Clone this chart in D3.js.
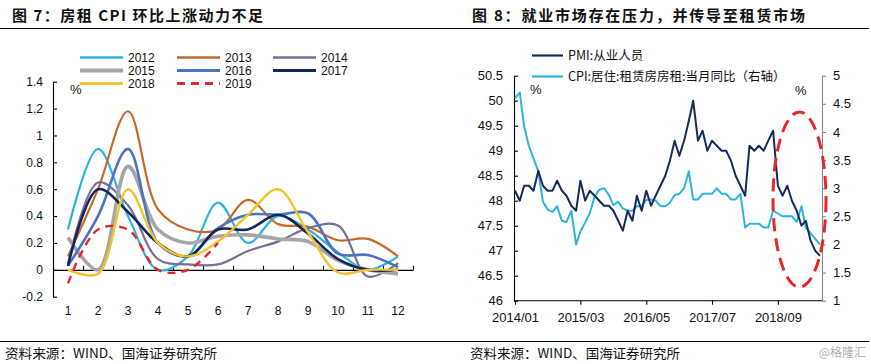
<!DOCTYPE html>
<html><head><meta charset="utf-8">
<script src="https://cdn.jsdelivr.net/npm/d3@7"></script>
<style>body{margin:0;background:#fff;} svg{display:block;font-family:"Liberation Sans",Arial,sans-serif;}</style>
</head><body><svg id="c" width="871" height="364"></svg>
<script>
// ---------- Data: figure 7 (rent CPI month-on-month, %) ----------
const months = [1,2,3,4,5,6,7,8,9,10,11,12];
const seriesNames = ["2012","2013","2014","2015","2016","2017","2018","2019"];
const s2012 = [0.3, 0.9, 0.4, 0.0, 0.1, 0.5, 0.2, 0.4, 0.3, 0.13, 0.0, 0.1];
const s2013 = [0.1, 0.6, 1.18, 0.45, 0.3, 0.3, 0.52, 0.34, 0.32, 0.22, 0.23, 0.1];
const s2014 = [0.04, 0.65, 0.48, 0.08, 0.04, 0.04, 0.14, 0.21, 0.31, 0.33, -0.05, 0.05];
const s2015 = [0.24, 0.0, 0.77, 0.3, 0.2, 0.25, 0.26, 0.23, 0.21, 0.07, 0.0, -0.03];
const s2016 = [0.03, 0.4, 0.9, 0.2, 0.1, 0.31, 0.41, 0.41, 0.42, 0.12, 0.11, 0.02];
const s2017 = [0.03, 0.6, 0.43, 0.2, 0.1, 0.3, 0.3, 0.41, 0.27, 0.08, 0.0, 0.0];
const s2018 = [0.0, -0.03, 0.6, 0.2, 0.1, 0.21, 0.41, 0.6, 0.28, -0.02, 0.0, 0.0];
const s2019 = [-0.1, 0.3, 0.3, 0.0, 0.0, 0.2];
const leftTicks = [-0.2, 0, 0.2, 0.4, 0.6, 0.8, 1, 1.2, 1.4];

// ---------- Data: figure 8 (monthly, 2014/01 - 2019/06) ----------
const pmiEmployment = [
 48.2,48.0,48.3,48.3,48.2,48.6,48.3,48.2,48.2,48.4,48.2,48.1,
 47.9,47.8,48.4,48.0,48.2,48.1,48.0,47.9,47.9,47.8,47.6,47.4,
 47.8,47.6,48.1,47.8,48.2,47.9,48.1,48.3,48.5,48.8,49.2,48.9,
 49.2,49.6,50.0,49.2,49.4,49.0,49.2,49.1,49.0,49.0,48.8,48.5,
 48.3,48.1,49.1,49.0,49.1,49.0,49.2,49.4,48.3,48.1,48.3,48.0,
 47.8,47.5,47.6,47.2,47.0,46.9];
const rentCpi = [
 4.6,4.7,4.1,3.75,3.53,3.3,2.76,2.62,2.58,2.68,2.42,2.4,
 2.6,2.0,2.23,2.39,2.56,2.85,2.97,3.0,2.88,2.7,2.76,2.64,
 2.6,2.6,2.68,2.68,2.79,2.8,2.78,2.68,2.68,2.74,2.88,2.9,
 3.0,3.3,2.8,2.8,2.9,2.9,2.9,3.0,2.9,2.9,2.8,2.8,
 2.9,2.3,2.37,2.37,2.37,2.3,2.3,2.6,2.55,2.5,2.5,2.5,
 2.4,2.68,2.3,2.2,2.1,2.0];
const pmiTicks = [46,46.5,47,47.5,48,48.5,49,49.5,50,50.5];
const rentTicks = [1,1.5,2,2.5,3,3.5,4,4.5,5];
const dateTickLabels = ["2014/01","2015/03","2016/05","2017/07","2018/09"];

const svg = d3.select("#c");
const CJK = '"Noto Sans CJK SC","Noto Sans",sans-serif';

// ---------- Headers / footers ----------
svg.append("text").attr("x",12).attr("y",21).attr("font-family",CJK).attr("font-weight","bold")
  .attr("font-size",15).attr("textLength",251).attr("lengthAdjust","spacing").attr("fill","#111")
  .text("图 7：房租 CPI 环比上涨动力不足");
svg.append("text").attr("x",472).attr("y",21).attr("font-family",CJK).attr("font-weight","bold")
  .attr("font-size",15).attr("textLength",333).attr("lengthAdjust","spacing").attr("fill","#111")
  .text("图 8：就业市场存在压力，并传导至租赁市场");
svg.append("line").attr("x1",0).attr("x2",869).attr("y1",28.5).attr("y2",28.5).attr("stroke","#000").attr("stroke-width",1.2);
svg.append("line").attr("x1",0).attr("x2",869).attr("y1",341.5).attr("y2",341.5).attr("stroke","#000").attr("stroke-width",1.2);
svg.append("text").attr("x",5).attr("y",358).attr("font-family",CJK).attr("font-size",13)
  .attr("textLength",212).attr("lengthAdjust","spacingAndGlyphs").attr("fill","#111").text("资料来源：WIND、国海证券研究所");
svg.append("text").attr("x",470).attr("y",358).attr("font-family",CJK).attr("font-size",13)
  .attr("textLength",210).attr("lengthAdjust","spacingAndGlyphs").attr("fill","#111").text("资料来源：WIND、国海证券研究所");
svg.append("text").attr("x",866).attr("y",357).attr("text-anchor","end").attr("font-family",CJK).attr("font-size",12)
  .attr("fill","#b0b0b0").text("@格隆汇");

// ---------- Figure 7 ----------
const colors7 = ["#2DB3E3","#C4692B","#7B6B98","#A6A6A6","#4A74BF","#15255A","#F3C32F","#E8262A"];
const widths7 = [2.2,2.2,2.2,3.6,2.6,2.6,2.4,2.4];
const data7 = [s2012,s2013,s2014,s2015,s2016,s2017,s2018,s2019];

const x7 = d3.scaleBand().domain(months).range([53,413]);
const xb7 = d3.scaleLinear().domain([0,12]).range([53,413]);
const y7 = d3.scaleLinear().domain([-0.2,1.4]).range([296.7,81.7]);
const g7 = svg.append("g");

const fmt = d => String(+(+d).toFixed(2));
const ya = g7.append("g").attr("transform","translate(53,0)")
  .call(d3.axisLeft(y7).tickValues(leftTicks).tickSize(-4).tickSizeOuter(0).tickPadding(10).tickFormat(fmt));
const xa = g7.append("g").attr("transform",`translate(0,${y7(0)})`)
  .call(d3.axisTop(xb7).ticks(12).tickSize(4).tickSizeOuter(0).tickFormat(""));
const xl = g7.append("g").attr("transform",`translate(0,${y7(-0.2)})`)
  .call(d3.axisBottom(x7).tickSize(0).tickPadding(10));
xl.select(".domain").remove();
[ya,xa,xl].forEach(a=>{a.selectAll("text").attr("font-size",12).attr("fill","#111").attr("font-family",'"Liberation Sans",Arial,sans-serif');
  a.selectAll("line,path").attr("stroke","#000").attr("stroke-width",1.1);});

const line7 = d3.line().x((d,i)=>x7(months[i])+x7.bandwidth()/2).y(d=>y7(d)).curve(d3.curveCatmullRom);
data7.forEach((arr,k)=>{
  g7.append("path").attr("d",line7(arr)).attr("fill","none").attr("stroke",colors7[k])
    .attr("stroke-width",widths7[k]).attr("stroke-dasharray",k===7?"8,6":null).attr("stroke-linejoin","round");
});
g7.append("text").attr("x",70).attr("y",94).attr("font-size",13).attr("fill","#111").text("%");

// legend 7
const lgX = [80,177,273], lgY = [57.5,70.5,83.5];
seriesNames.forEach((nm,k)=>{
  const cx = lgX[k%3], cy = lgY[Math.floor(k/3)];
  g7.append("line").attr("x1",cx).attr("x2",cx+43).attr("y1",cy).attr("y2",cy).attr("stroke",colors7[k])
    .attr("stroke-width",widths7[k]+0.4).attr("stroke-dasharray",k===7?"8,6":null);
  g7.append("text").attr("x",cx+48).attr("y",cy+4.3).attr("font-size",12).attr("fill","#111").text(nm);
});

// ---------- Figure 8 ----------
const parse = d3.timeParse("%Y/%m");
const dates8 = pmiEmployment.map((d,i)=>new Date(2014, i, 1));
const x8 = d3.scaleTime().domain([dates8[0], dates8[dates8.length-1]]).range([515,820]);
const yl8 = d3.scaleLinear().domain([46,50.5]).range([300.7,75.7]);
const yr8 = d3.scaleLinear().domain([1,5]).range([300.7,75.7]);
const g8 = svg.append("g");

const la = g8.append("g").attr("transform","translate(514,0)")
  .call(d3.axisLeft(yl8).tickValues(pmiTicks).tickSize(-4).tickSizeOuter(0).tickPadding(11).tickFormat(fmt));
const ra = g8.append("g").attr("transform","translate(822,0)")
  .call(d3.axisRight(yr8).tickValues(rentTicks).tickSize(4).tickSizeOuter(0).tickPadding(7).tickFormat(fmt));
const ba = g8.append("g").attr("transform","translate(0,300.7)")
  .call(d3.axisBottom(x8).tickValues(dateTickLabels.map(parse)).tickSize(4).tickSizeOuter(0).tickPadding(8)
    .tickFormat(d3.timeFormat("%Y/%m")));
ba.select(".domain").remove();
g8.append("line").attr("x1",514).attr("x2",822).attr("y1",300.7).attr("y2",300.7).attr("stroke","#000").attr("stroke-width",1.1);
la.selectAll("line,path").attr("stroke","#000").attr("stroke-width",1.1);
ba.selectAll("line").attr("stroke","#000").attr("stroke-width",1.1);
ra.selectAll("line,path").attr("stroke","#888").attr("stroke-width",1.1);
[la,ra,ba].forEach(a=>a.selectAll("text").attr("font-size",13).attr("fill","#111").attr("font-family",'"Liberation Sans",Arial,sans-serif'));

const linePmi = d3.line().x((d,i)=>x8(dates8[i])).y(d=>yl8(d));
const lineRent = d3.line().x((d,i)=>x8(dates8[i])).y(d=>yr8(d));
g8.append("path").attr("d",lineRent(rentCpi)).attr("fill","none").attr("stroke","#2DB3E3").attr("stroke-width",2).attr("stroke-linejoin","round");
g8.append("path").attr("d",linePmi(pmiEmployment)).attr("fill","none").attr("stroke","#172A5E").attr("stroke-width",2).attr("stroke-linejoin","round");

g8.append("ellipse").attr("cx",799.5).attr("cy",199.5).attr("rx",26.5).attr("ry",87.5)
  .attr("fill","none").attr("stroke","#E8262A").attr("stroke-width",3).attr("stroke-dasharray","13,7");

g8.append("text").attr("x",530).attr("y",94).attr("font-size",13).attr("fill","#111").text("%");
g8.append("text").attr("x",795).attr("y",95).attr("font-size",13).attr("fill","#111").text("%");

const lg8 = [["PMI:从业人员","#172A5E",55.5],["CPI:居住:租赁房房租:当月同比（右轴）","#2DB3E3",76.5]];
lg8.forEach(([t,c,yy])=>{
  g8.append("line").attr("x1",532).attr("x2",563).attr("y1",yy).attr("y2",yy).attr("stroke",c).attr("stroke-width",2.2);
  g8.append("text").attr("x",568).attr("y",yy+4.5).attr("font-family",CJK).attr("font-size",12.5).attr("fill","#111").text(t);
});
</script></body></html>
